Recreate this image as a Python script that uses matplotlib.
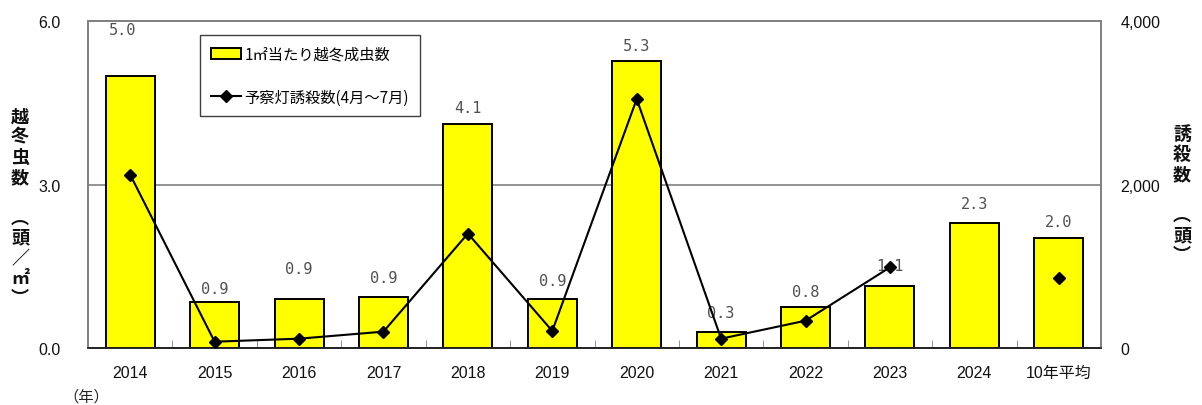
import numpy as np
import matplotlib.pyplot as plt
from matplotlib.patches import Patch
from matplotlib.lines import Line2D
from matplotlib.ticker import FuncFormatter

plt.rcParams['font.family'] = ['Liberation Sans', 'Noto Sans CJK JP', 'DejaVu Sans']

# データ
years = ['2014', '2015', '2016', '2017', '2018', '2019', '2020',
         '2021', '2022', '2023', '2024', '10年平均']
adults = [5.0, 0.85, 0.9, 0.94, 4.11, 0.89, 5.26, 0.29, 0.75, 1.14, 2.3, 2.01]
adult_labels = ['5.0', '0.9', '0.9', '0.9', '4.1', '0.9', '5.3',
                '0.3', '0.8', '1.1', '2.3', '2.0']
catches = [2120, 77, 114, 200, 1400, 208, 3045, 114, 334, 987, np.nan, 860]

# ラベルの位置(棒の上からのずれ, px)
label_dy = [46, 13, 30, 19, 17, 19, 16, 20, 16, 20, 19, 17]
label_dx = [-8, 0, 0, 0, 0, 0, 0, 0, 0, 0, 0, 0]

grey = '#808080'
x = np.arange(len(years))

fig = plt.figure(figsize=(12.02, 4.06), dpi=100)
ax1 = fig.add_axes([0.0732, 0.1404, 0.8428, 0.8054])
ax2 = ax1.twinx()

ax1.bar(x, adults, width=0.58, color='#FFFF00', edgecolor='black',
        linewidth=1.4, zorder=2)
for i in range(len(x)):
    ax1.annotate(adult_labels[i], (x[i], adults[i]),
                 xytext=(label_dx[i], label_dy[i]), textcoords='offset pixels',
                 ha='center', va='center', fontsize=11, color='#505050',
                 family=['DejaVu Sans Mono'])

ax1.set_xlim(-0.5, len(x) - 0.5)
ax1.set_ylim(0, 6)
ax1.set_yticks([0, 3, 6])
ax1.yaxis.set_major_formatter(FuncFormatter(lambda v, p: '%.1f' % v))
ax1.set_xticks(x)
ax1.set_xticklabels(years, fontsize=11.5, color='#111111')
ax1.set_xticks(np.arange(0.5, len(x) - 1, 1.0), minor=True)
ax1.tick_params(axis='x', which='major', length=0, pad=12)
ax1.tick_params(axis='x', which='minor', direction='in', length=6, color=grey)
ax1.tick_params(axis='y', length=0, pad=20, labelsize=11.5, labelcolor='#111111')
ax1.yaxis.grid(True, color=grey, linewidth=1.2)
ax1.set_axisbelow(True)

ax2.plot(x, catches, color='black', linewidth=1.5, marker='D',
         markersize=6, zorder=3)
ax2.set_ylim(0, 4000)
ax2.set_yticks([0, 2000, 4000])
ax2.yaxis.set_major_formatter(FuncFormatter(lambda v, p: '{:,.0f}'.format(v)))
ax2.tick_params(axis='y', length=0, pad=14, labelsize=11.5, labelcolor='#111111')

for ax in (ax1, ax2):
    for s in ('top', 'left', 'right'):
        ax.spines[s].set_color(grey)
        ax.spines[s].set_linewidth(1.2)
    ax.spines['bottom'].set_color('#222222')
    ax.spines['bottom'].set_linewidth(1.2)

handles = [Patch(facecolor='#FFFF00', edgecolor='black', linewidth=1.4),
           Line2D([], [], color='black', linewidth=1.5, marker='D', markersize=6)]
leg = ax2.legend(handles, ['1㎡当たり越冬成虫数', '予察灯誘殺数(4月～7月)'],
                 loc='upper left', bbox_to_anchor=(0.1106, 0.957),
                 borderaxespad=0, fancybox=False, framealpha=1,
                 edgecolor='#404040', handlelength=2.0,
                 handletextpad=0.2, labelspacing=1.7, borderpad=0.7,
                 prop={'family': ['Noto Sans CJK JP', 'DejaVu Sans'], 'size': 11})
leg.get_frame().set_linewidth(1.0)

cjk = ['Noto Sans CJK JP', 'DejaVu Sans']
fig.text(20 / 1202, 1 - 208 / 406, '\n'.join('越冬虫数　︵頭／㎡︶'),
         ha='center', va='center', fontsize=13, fontweight='bold',
         linespacing=1.08, family=cjk, color='#111111')
fig.text(1182 / 1202, 1 - 195 / 406, '\n'.join('誘殺数　︵頭︶'),
         ha='center', va='center', fontsize=13, fontweight='bold',
         linespacing=1.08, family=cjk, color='#111111')
fig.text(86 / 1202, 1 - 397 / 406, '（年）', ha='center', va='center',
         fontsize=11, family=cjk, color='#222222')

fig.savefig('out.png', dpi=100)
